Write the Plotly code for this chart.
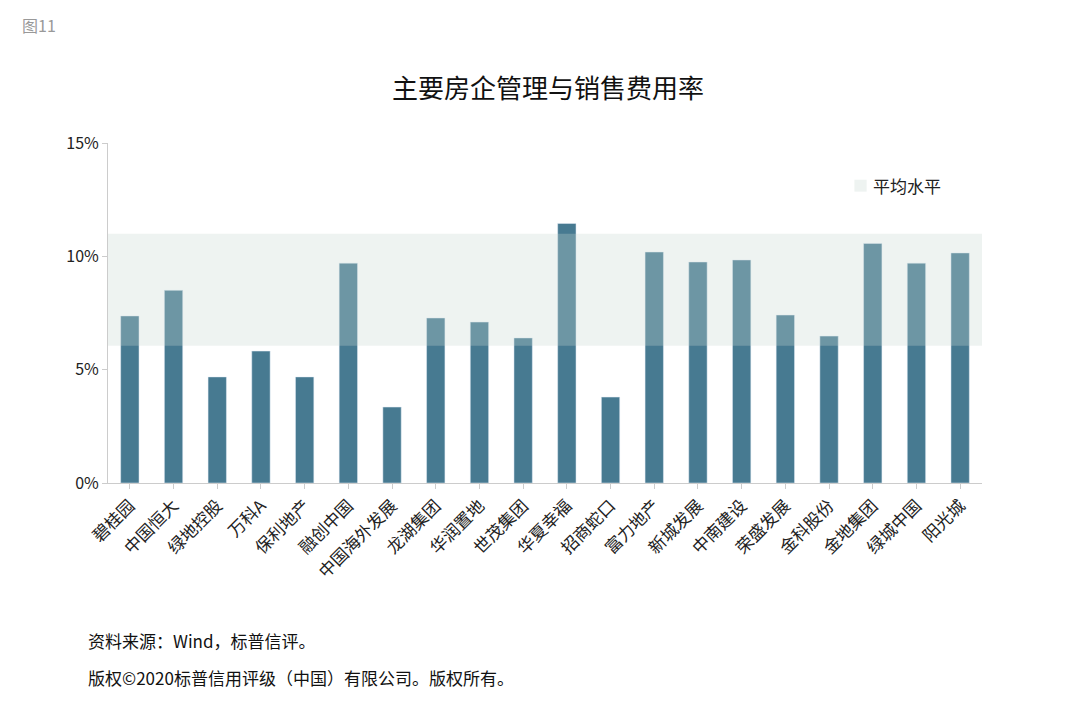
import plotly.graph_objects as go

companies = ["碧桂园","中国恒大","绿地控股","万科A","保利地产","融创中国","中国海外发展","龙湖集团","华润置地","世茂集团",
             "华夏幸福","招商蛇口","富力地产","新城发展","中南建设","荣盛发展","金科股份","金地集团","绿城中国","阳光城"]
ratio = [7.37,8.5,4.68,5.82,4.68,9.7,3.35,7.28,7.1,6.4,11.45,3.79,10.19,9.75,9.84,7.41,6.48,10.57,9.7,10.15]
band_low, band_high = 6.05, 11.0

F = "Noto Sans CJK SC"
fig = go.Figure(go.Bar(x=companies, y=ratio, marker_color="#477a91", width=0.42, showlegend=False))
fig.add_shape(type="rect", xref="paper", yref="y", x0=0, x1=1, y0=band_low, y1=band_high,
              fillcolor="rgba(198,215,208,0.3)", line_width=0, layer="above")
fig.add_shape(type="rect", xref="paper", yref="paper", x0=0.854, x1=0.868, y0=0.857, y1=0.892,
              fillcolor="#eef3f1", line_width=0)
fig.add_annotation(xref="paper", yref="paper", x=0.873, y=0.874, text="平均水平", showarrow=False,
                   xanchor="left", yanchor="middle", font=dict(family=F, size=17, color="#222"))
fig.update_layout(
    width=1080, height=705, plot_bgcolor="white", paper_bgcolor="white",
    margin=dict(l=100, r=106, t=135, b=230),
    font=dict(family=F, color="#222"),
    title=dict(text="主要房企管理与销售费用率", x=0.5, xanchor="center", y=0.885, yanchor="middle",
               font=dict(family=F, size=26, color="#111")),
    xaxis=dict(tickangle=-45, tickfont=dict(size=17), showline=True, linecolor="#ccc",
               ticks="outside", tickcolor="#ccc", ticklen=5, range=[-0.5, 19.5]),
    yaxis=dict(range=[0, 15], tickvals=[0,5,10,15], ticktext=["0%","5%","10%","15%"],
               showgrid=False, showline=True, linecolor="#ccc", tickfont=dict(size=16),
               ticks="outside", tickcolor="#ccc", ticklen=5, zeroline=False),
)
fig.add_annotation(xref="paper", yref="paper", x=0, y=1.0, yshift=118, xshift=-88, text="图11", showarrow=False,
                   xanchor="left", yanchor="middle", font=dict(family=F, size=16, color="#999"))
fig.add_annotation(xref="paper", yref="paper", x=0, y=0, yshift=-157, xshift=-22, text="资料来源：Wind，标普信评。",
                   showarrow=False, xanchor="left", yanchor="middle", font=dict(family=F, size=17, color="#111"))
fig.add_annotation(xref="paper", yref="paper", x=0, y=0, yshift=-194, xshift=-22,
                   text="版权©2020标普信用评级（中国）有限公司。版权所有。",
                   showarrow=False, xanchor="left", yanchor="middle", font=dict(family=F, size=17, color="#111"))
fig.write_html("out.html")
